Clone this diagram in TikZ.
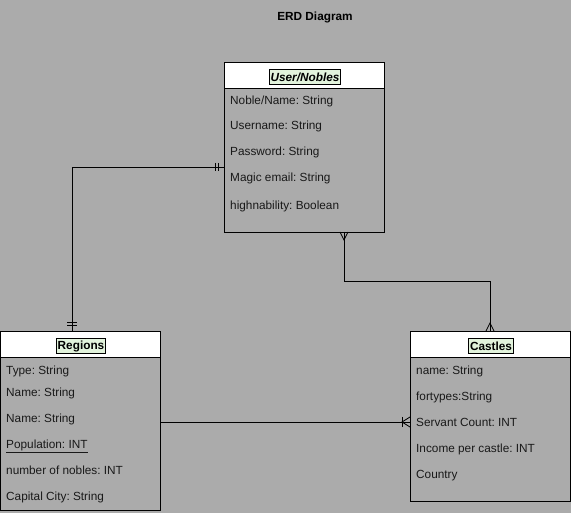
\documentclass[tikz,border=0pt]{standalone}
\usepackage{fontspec}
\setmainfont{Liberation Sans}
\usetikzlibrary{calc}
\frenchspacing
\definecolor{bg}{HTML}{ABABAB}
\definecolor{hdr}{HTML}{E2F3DC}
\begin{document}
\begin{tikzpicture}[x=1pt,y=-1pt,
  ent/.style={draw=black,line width=0.8pt,anchor=north west,inner sep=0},
  hbox/.style={draw=black,fill=white,line width=0.8pt,anchor=north west,inner sep=0},
  ttl/.style={draw=black,fill=hdr,line width=0.8pt,font=\fontsize{11.8}{13}\selectfont\bfseries,inner sep=1.2pt,minimum height=15pt},
  row/.style={anchor=base west,font=\fontsize{11.8}{13}\selectfont\frenchspacing,inner sep=0,text=black!90},
  conn/.style={line width=0.8pt,draw=black}]
\fill[bg] (0,0) rectangle (571,513);
\useasboundingbox (0,0) rectangle (571,513);
\node[font=\fontsize{11.8}{13}\selectfont\bfseries] (title) at (315,17) {ERD Diagram};
% User/Nobles
\node[ent,minimum width=160pt,minimum height=170pt] (user) at (224,62) {};
\node[hbox,minimum width=160pt,minimum height=26pt] (userh) at (224,62) {};
\node[ttl] (usert) at (305,77) {\itshape User/Nobles};
\node[row] (u1) at (230,105) {Noble/Name: String};
\node[row] (u2) at (230,130) {Username: String};
\node[row] (u3) at (230,156) {Password: String};
\node[row] (u4) at (230,182) {Magic email: String};
\node[row] (u5) at (230,210) {highnability: Boolean};
% Regions
\node[ent,minimum width=160pt,minimum height=179pt] (reg) at (0,331) {};
\node[hbox,minimum width=160pt,minimum height=26pt] (regh) at (0,331) {};
\node[ttl] (regt) at (81,346) {Regions};
\node[row] (r1) at (6,374) {Type: String};
\node[row] (r2) at (6,397) {Name: String};
\node[row] (r3) at (6,423) {Name: String};
\node[row] (r4) at (6,448) {\underline{Population: INT}};
\node[row] (r5) at (6,474) {number of nobles: INT};
\node[row] (r6) at (6,500) {Capital City: String};
% Castles
\node[ent,minimum width=160pt,minimum height=170pt] (cas) at (410,331) {};
\node[hbox,minimum width=160pt,minimum height=26pt] (cash) at (410,331) {};
\node[ttl] (cast) at (491,346) {Castles};
\node[row] (c1) at (416,374) {name: String};
\node[row] (c2) at (416,400) {fortypes:String};
\node[row] (c3) at (416,426) {Servant Count: INT};
\node[row] (c4) at (416,452) {Income per castle: INT};
\node[row] (c5) at (416,478) {Country};
% connection points
\coordinate (pu1) at (224,167);
\coordinate (pr1) at (72,331);
\coordinate (pu2) at (344,232);
\coordinate (pc2) at (490,331);
\coordinate (pr3) at (160,422);
\coordinate (pc3) at (410,422);
% User -- Regions (one and only one both ends)
\draw[conn] (pu1) -| (pr1);
\draw[conn] ($(pu1)+(-6,-4)$) -- ($(pu1)+(-6,4)$);
\draw[conn] ($(pu1)+(-9,-4)$) -- ($(pu1)+(-9,4)$);
\draw[conn] ($(pr1)+(-5,-6)$) -- ($(pr1)+(5,-6)$);
\draw[conn] ($(pr1)+(-5,-9)$) -- ($(pr1)+(5,-9)$);
% User -- Castles (many both ends)
\draw[conn] (pu2) |- (344,281) -| (pc2);
\draw[conn] ($(pu2)+(-4,0)$) -- ($(pu2)+(0,8)$) -- ($(pu2)+(4,0)$);
\draw[conn] ($(pc2)+(-4,0)$) -- ($(pc2)+(0,-8)$) -- ($(pc2)+(4,0)$);
% Regions -- Castles (one or many at castles)
\draw[conn] (pr3) -- (pc3);
\draw[conn] ($(pc3)+(0,-5)$) -- ($(pc3)+(-8,0)$) -- ($(pc3)+(0,5)$);
\draw[conn] ($(pc3)+(-8,-5)$) -- ($(pc3)+(-8,5)$);
\end{tikzpicture}
\end{document}
